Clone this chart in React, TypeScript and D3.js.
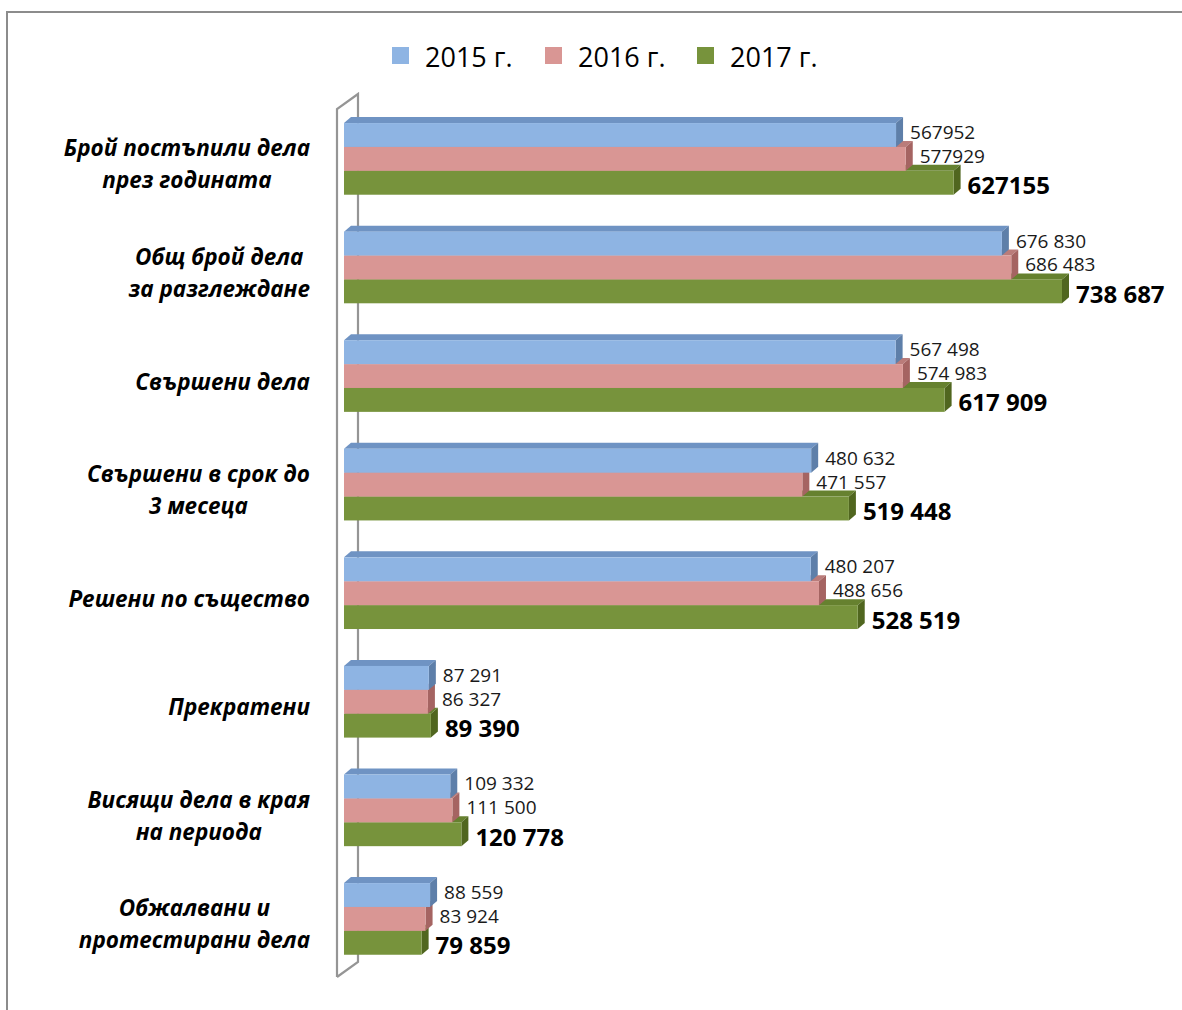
import React from "react";
import * as d3 from "d3";

const categories: string[][] = [
  ["Брой постъпили дела", "през годината"],
  ["Общ брой дела", "за разглеждане"],
  ["Свършени дела"],
  ["Свършени в срок до", "3 месеца"],
  ["Решени по същество"],
  ["Прекратени"],
  ["Висящи дела в края", "на периода"],
  ["Обжалвани и", "протестирани дела"],
];

const seriesNames = ["2015 г.", "2016 г.", "2017 г."];
const values2015 = [567952, 676830, 567498, 480632, 480207, 87291, 109332, 88559];
const values2016 = [577929, 686483, 574983, 471557, 488656, 86327, 111500, 83924];
const values2017 = [627155, 738687, 617909, 519448, 528519, 89390, 120778, 79859];
const useThousandsSpace = [false, true, true, true, true, true, true, true];

const seriesValues = [values2015, values2016, values2017];
const frontColors = ["#8EB4E3", "#D99694", "#77933C"];
const topColors = ["#6F93C3", "#BA7C7A", "#66812F"];
const sideColors = ["#5E7FA9", "#A56462", "#50661F"];

const W = 1182;
const H = 1010;
const DX = 7;
const DY = 6;

const spaced = d3.formatLocale({ decimal: ",", thousands: " ", grouping: [3], currency: ["", ""] }).format(",d");
const plain = d3.format("d");

const catSize = 22.5;
const catFont = `italic bold ${catSize}px 'Open Sans'`;
let ctx: CanvasRenderingContext2D | null = null;
function measure(text: string, font: string): number {
  if (!ctx) ctx = document.createElement("canvas").getContext("2d");
  if (!ctx) return text.length * 10;
  ctx.font = font;
  return ctx.measureText(text).width;
}

export default function App() {
  const x = d3.scaleLinear().domain([0, 800000]).range([344, 344 + 800000 * 0.000972]);
  const idx = categories.map((_, i) => i);
  const y = d3.scaleBand<number>().domain(idx).range([104.6, 973.2]).paddingInner(0.34).paddingOuter(0.17);
  const ys = d3.scaleBand<number>().domain([0, 1, 2]).range([0, y.bandwidth()]);
  const bh = ys.bandwidth();

  const wallX0 = 337, wallY0 = 109, wallY1 = 977, wallDX = 21, wallDY = 15;
  const labelRight = 310;

  return (
    <svg width={W} height={H} style={{ position: "absolute", left: 0, top: 0, background: "#fff" }}>
      {/* frame */}
      <path d={`M7,${H} L7,12 L${W},12`} fill="none" stroke="#8c8c8c" strokeWidth={2} />

      {/* legend */}
      {seriesNames.map((s, i) => {
        const lx = [392, 545, 697][i];
        return (
          <g key={s}>
            <rect x={lx} y={47} width={17} height={17} fill={frontColors[i]} />
            <text x={lx + 33} y={56} dominantBaseline="central" fontFamily="'Open Sans'" fontSize={27} fill="#000">
              {s}
            </text>
          </g>
        );
      })}

      {/* wall */}
      <path
        d={`M${wallX0},${wallY1} L${wallX0},${wallY0} L${wallX0 + wallDX},${wallY0 - wallDY} L${wallX0 + wallDX},${wallY1 - wallDY} L${wallX0},${wallY1}`}
        fill="none"
        stroke="#959595"
        strokeWidth={2.2}
      />

      {/* category labels */}
      {categories.map((lines, i) => {
        const cy = (y(i) as number) + y.bandwidth() / 2 + 5;
        const maxW = d3.max(lines, (l) => measure(l, catFont)) || 0;
        const cx = labelRight - maxW / 2;
        const lh = 32;
        const start = cy - ((lines.length - 1) * lh) / 2;
        return (
          <text key={i} fontFamily="'Open Sans'" fontStyle="italic" fontWeight="bold" fontSize={catSize} textAnchor="middle" fill="#000">
            {lines.map((l, j) => (
              <tspan key={j} x={cx} y={start + j * lh} dominantBaseline="central">
                {l}
              </tspan>
            ))}
          </text>
        );
      })}

      {/* bars */}
      {categories.map((_, i) => {
        const gy = y(i) as number;
        return (
          <g key={i}>
            {[2, 1, 0].map((s) => {
              const v = seriesValues[s][i];
              const x0 = x(0);
              const x1 = x(v);
              const by = gy + (ys(s) as number);
              const top = `M${x0},${by} L${x1},${by} L${x1 + DX},${by - DY} L${x0 + DX},${by - DY}Z`;
              const side = `M${x1},${by} L${x1 + DX},${by - DY} L${x1 + DX},${by + bh - DY} L${x1},${by + bh}Z`;
              return (
                <g key={s}>
                  <path d={top} fill={topColors[s]} />
                  <path d={side} fill={sideColors[s]} />
                  <rect x={x0} y={by} width={x1 - x0} height={bh} fill={frontColors[s]} />
                </g>
              );
            })}
            {[0, 1, 2].map((s) => {
              const v = seriesValues[s][i];
              const by = gy + (ys(s) as number);
              const bold = s === 2;
              const txt = useThousandsSpace[i] ? spaced(v) : plain(v);
              return (
                <text
                  key={"l" + s}
                  x={x(v) + DX + 7}
                  y={by + bh / 2 + (bold ? 2 : -3)}
                  dominantBaseline="central"
                  fontFamily="'Open Sans'"
                  fontSize={bold ? 24 : 19}
                  fontWeight={bold ? "bold" : "normal"}
                  fill={bold ? "#000" : "#1a1a1a"}
                >
                  {txt}
                </text>
              );
            })}
          </g>
        );
      })}
    </svg>
  );
}
